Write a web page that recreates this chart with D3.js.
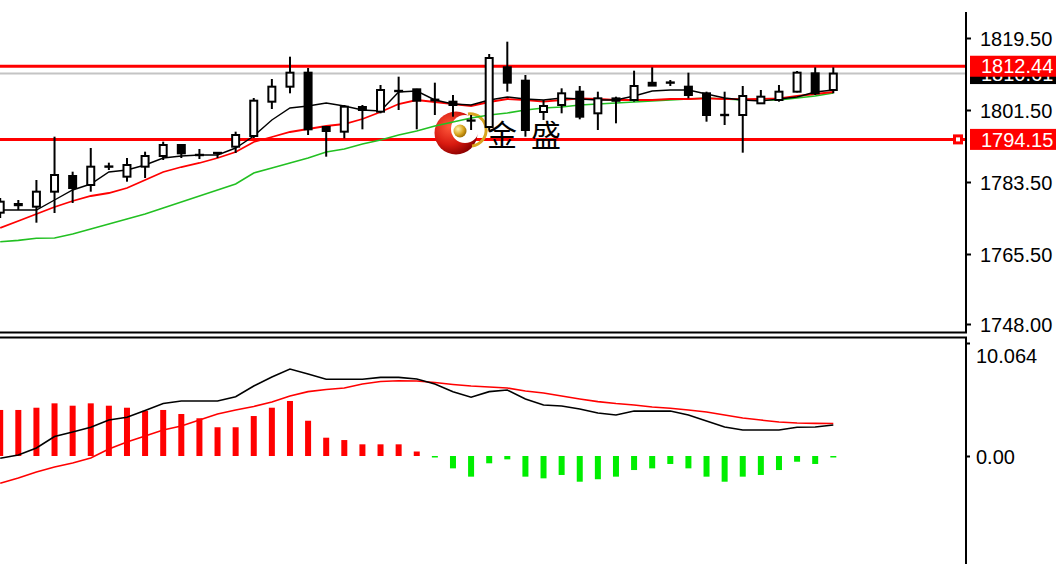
<!DOCTYPE html>
<html><head><meta charset="utf-8">
<script src="https://cdn.jsdelivr.net/npm/d3@7/dist/d3.min.js"></script>
<style>html,body{margin:0;padding:0;background:#fff;overflow:hidden}svg{display:block}</style>
</head><body><svg id="c" width="1056" height="564"></svg>
<script>
// ---- data ----
const open  = [1775.83,1777.7,1777.33,1781.08,1785,1782.75,1787.3,1784.83,1787.33,1790,1792.75,1790.3,1790.8,1792.33,1795,1803.58,1807.33,1810.83,1797.25,1796.08,1802.25,1801.08,1806.2,1806.67,1804.1,1803.58,1798.83,1797.25,1812.17,1808.83,1801,1802.75,1806.08,1800.67,1804.4,1804,1808.3,1808.3,1807.33,1805.67,1800.2,1800.25,1803.17,1804,1806.08,1810.67,1806.5];
const high  = [1779.5,1779.0,1784,1794.83,1786.08,1792,1788.33,1789.5,1791.08,1793.58,1792.9,1791.75,1791.0,1796.08,1804.5,1809.25,1814.83,1812,1797.5,1802.75,1802.75,1807.75,1809.83,1806.8,1808.33,1805.25,1800.25,1815.5,1818.58,1810.25,1804,1806.92,1807.5,1806.08,1804.83,1811.33,1812.17,1809,1810.83,1806.08,1806.08,1807.5,1806.5,1807.75,1811.25,1812.17,1812.17];
const low   = [1774.5,1776.5,1773.33,1775.75,1778.25,1781.08,1786.5,1783.58,1784.5,1789,1789.5,1789.25,1789.5,1790.75,1794.5,1801.75,1805.67,1795.25,1789.83,1794.42,1796.67,1800.67,1801.5,1796.67,1800.25,1799.83,1796.5,1796.5,1806.08,1794.83,1799,1800.67,1799.17,1796.5,1798.17,1803.58,1807.5,1807.5,1804.42,1798.58,1797.75,1790.83,1803,1803.58,1805.9,1805.25,1805.67];
const close = [1778.58,1778.0,1781.08,1785.25,1782,1787.33,1787.4,1787.75,1790,1792.75,1790.67,1790.2,1790.7,1795.25,1803.83,1807.33,1810.83,1796.67,1796.25,1802.33,1801.5,1806.5,1806.3,1803.83,1803.9,1802.75,1798.9,1814.5,1808.33,1796.5,1802.5,1805.67,1799.83,1804.42,1803.8,1807.5,1807.6,1808.4,1805.25,1800.25,1800.3,1805,1804.83,1806.08,1810.83,1805.67,1810.61];

const maFast = [1776.5,1776.5,1776.5,1779,1781.5,1783,1786,1786.5,1787.75,1789.5,1790,1790.25,1790.25,1792,1795,1799,1802,1802.5,1803.25,1802.5,1801.5,1801.25,1806,1806.25,1804,1803,1802.75,1804,1804.75,1804.25,1804,1804.5,1804.25,1804,1804,1805,1806.25,1806.5,1806.5,1805.5,1804.5,1804,1803.75,1804.25,1804.75,1806,1806.5];
const maMid  = [1772,1773.75,1775.5,1777.25,1778.75,1780,1780.75,1782,1784,1786,1787.25,1788.25,1789.5,1791,1793.5,1794.75,1796,1796.75,1797.5,1798,1799.25,1801,1803,1804,1803.5,1803,1802.5,1803.5,1804.25,1804,1803.6,1804,1804.4,1804.25,1804,1804,1804,1804.25,1804.25,1804.4,1804.25,1804.2,1804.25,1804.4,1805,1805.5,1806];
const maSlow = [1768.58,1768.9,1769.42,1769.5,1770.5,1771.75,1773,1774.25,1775.5,1777,1778.5,1780,1781.5,1783,1785.75,1787,1788.25,1789.5,1791,1791.75,1793,1794,1795.25,1796.25,1797.5,1798.5,1799.5,1800.25,1800.75,1801.5,1802,1802.25,1802.75,1803,1803.25,1803.5,1803.75,1804,1804.25,1804.5,1804.25,1804,1804,1804,1804.5,1805,1805.75];

const macdMain   = [-0.2,0.09,0.71,1.74,2.14,2.56,3.2,3.45,4.05,4.67,4.9,4.9,4.9,5.28,6.23,7.03,7.75,7.3,6.83,6.83,6.83,7.0,7.0,6.86,6.41,5.73,5.23,5.73,5.88,5.08,4.54,4.45,4.19,3.83,3.65,4.0,4.0,4.0,3.65,3.12,2.58,2.32,2.32,2.32,2.56,2.58,2.76];
const macdSignal = [-2.43,-1.96,-1.42,-0.98,-0.62,-0.18,0.62,1.25,1.78,2.32,2.67,3.2,3.74,4.1,4.41,4.81,5.34,5.73,5.92,6.05,6.41,6.63,6.7,6.68,6.54,6.37,6.23,6.14,6.05,5.79,5.61,5.34,5.08,4.84,4.67,4.54,4.36,4.25,4.1,3.92,3.65,3.38,3.2,3.03,2.94,2.91,2.89];
const macdHist   = [4.1,4.1,4.3,4.69,4.48,4.69,4.48,4.3,4.03,4.1,3.74,3.36,2.56,2.56,3.56,4.3,4.9,3.14,1.63,1.42,1.04,1.04,1.04,0.4,-0.12,-1.1,-1.84,-0.65,-0.3,-1.84,-1.99,-1.69,-2.29,-2.07,-1.84,-1.25,-1.1,-0.71,-1.1,-1.84,-2.29,-1.84,-1.69,-1.25,-0.51,-0.71,-0.12];

const priceTicks = [1819.50, 1801.50, 1783.50, 1765.50, 1748.00];
const macdTicks = [10.064, 0];
const macdTickLabels = ["10.064", "0.00"];
const levelLines = [1812.44, 1794.15];
const bidPrice = 1810.61;
const watermark = "金盛";

// ---- layout ----
const svg = d3.select("#c");
const axisX = 966;
const idx = d3.range(open.length);
const x = d3.scaleLinear().domain([0, open.length - 1]).range([0.2, 833.3]);
const yP = d3.scaleLinear().domain([1748, 1819.5]).range([324, 38]);
const yM = d3.scaleLinear().domain([0, 10.064]).range([456, 343]);
const FONT = "'Liberation Sans', Arial, sans-serif";

// bid (gray) line
svg.append("line").attr("x1", 0).attr("x2", axisX).attr("y1", yP(bidPrice)).attr("y2", yP(bidPrice))
  .attr("stroke", "#c4c4c4").attr("stroke-width", 2);

// level lines
svg.selectAll("line.level").data(levelLines).join("line").attr("class", "level")
  .attr("x1", 0).attr("x2", axisX).attr("y1", d => yP(d)).attr("y2", d => yP(d))
  .attr("stroke", "#ff0000").attr("stroke-width", 3);

// watermark logo
const defs = svg.append("defs");
const rg = defs.append("radialGradient").attr("id", "rg").attr("cx", "35%").attr("cy", "35%").attr("r", "70%");
rg.append("stop").attr("offset", "0%").attr("stop-color", "#ff5a3c");
rg.append("stop").attr("offset", "60%").attr("stop-color", "#d81a10");
rg.append("stop").attr("offset", "100%").attr("stop-color", "#8a0000");
const gg = defs.append("radialGradient").attr("id", "gg").attr("cx", "35%").attr("cy", "35%").attr("r", "70%");
gg.append("stop").attr("offset", "0%").attr("stop-color", "#fff3b0");
gg.append("stop").attr("offset", "60%").attr("stop-color", "#d9a520");
gg.append("stop").attr("offset", "100%").attr("stop-color", "#9a6a00");
const logo = svg.append("g");
logo.append("circle").attr("cx", 456).attr("cy", 133).attr("r", 21.5).attr("fill", "url(#rg)");
logo.append("circle").attr("cx", 465).attr("cy", 129).attr("r", 14).attr("fill", "#fff");
logo.append("path").attr("d", "M468,114 A15,15 0 0 1 472,146").attr("fill", "none").attr("stroke", "#d9a520").attr("stroke-width", 3);
logo.append("circle").attr("cx", 460).attr("cy", 131).attr("r", 6.5).attr("fill", "url(#gg)");
svg.append("text").attr("x", 487).attr("y", 146).text(watermark)
  .attr("font-family", "'Noto Sans CJK SC', sans-serif").attr("font-size", 30)
  .attr("letter-spacing", 14).attr("fill", "#000");

// moving averages
const lineP = d3.line().x((d, i) => x(i)).y(d => yP(d));
svg.append("path").datum(maSlow).attr("d", lineP).attr("fill", "none").attr("stroke", "#22c022").attr("stroke-width", 1.6);
svg.append("path").datum(maMid).attr("d", lineP).attr("fill", "none").attr("stroke", "#ff0000").attr("stroke-width", 1.8);
svg.append("path").datum(maFast).attr("d", lineP).attr("fill", "none").attr("stroke", "#000").attr("stroke-width", 1.4);

// candles
const cg = svg.append("g");
cg.selectAll("line.wick").data(idx).join("line").attr("class", "wick")
  .attr("x1", i => x(i)).attr("x2", i => x(i))
  .attr("y1", i => yP(high[i])).attr("y2", i => yP(low[i]))
  .attr("stroke", "#000").attr("stroke-width", 2);
cg.selectAll("rect.body").data(idx).join("rect").attr("class", "body")
  .attr("x", i => x(i) - 3.5).attr("width", 7)
  .attr("y", i => yP(Math.max(open[i], close[i])))
  .attr("height", i => Math.max(0.01, Math.abs(yP(open[i]) - yP(close[i]))))
  .attr("fill", i => close[i] >= open[i] ? "#fff" : "#000")
  .attr("stroke", "#000").attr("stroke-width", 2);

// MACD histogram
svg.selectAll("rect.hist").data(idx).join("rect").attr("class", "hist")
  .attr("x", i => x(i) - 3).attr("width", 6)
  .attr("y", i => Math.min(yM(0), yM(macdHist[i])))
  .attr("height", i => Math.max(1.5, Math.abs(yM(macdHist[i]) - yM(0))))
  .attr("fill", i => macdHist[i] >= 0 ? "#ff0000" : "#00ee00");
const lineM = d3.line().x((d, i) => x(i)).y(d => yM(d));
svg.append("path").datum(macdSignal).attr("d", lineM).attr("fill", "none").attr("stroke", "#ff0000").attr("stroke-width", 1.6);
svg.append("path").datum(macdMain).attr("d", lineM).attr("fill", "none").attr("stroke", "#000").attr("stroke-width", 1.6);

// panel frames
svg.append("line").attr("x1", 0).attr("x2", axisX + 1).attr("y1", 332.5).attr("y2", 332.5).attr("stroke", "#000").attr("stroke-width", 2);
svg.append("line").attr("x1", 0).attr("x2", axisX + 1).attr("y1", 337.5).attr("y2", 337.5).attr("stroke", "#000").attr("stroke-width", 2);
svg.append("line").attr("x1", axisX).attr("x2", axisX).attr("y1", 12).attr("y2", 333).attr("stroke", "#000").attr("stroke-width", 2);
svg.append("line").attr("x1", axisX).attr("x2", axisX).attr("y1", 337).attr("y2", 564).attr("stroke", "#000").attr("stroke-width", 2);

// price axis
const pAxis = svg.append("g").attr("transform", `translate(${axisX},0)`)
  .call(d3.axisRight(yP).tickValues(priceTicks).tickSize(5).tickPadding(9).tickFormat(d => d.toFixed(2)));
pAxis.select(".domain").remove();
pAxis.selectAll(".tick line").attr("stroke", "#000").attr("stroke-width", 2);
pAxis.selectAll(".tick text").attr("font-family", FONT).attr("font-size", 20).attr("fill", "#000").attr("dy", "0.36em");

// macd axis
const mAxis = svg.append("g").attr("transform", `translate(${axisX},0)`)
  .call(d3.axisRight(yM).tickValues(macdTicks).tickSize(4).tickPadding(6).tickFormat((d, i) => macdTickLabels[i]));
mAxis.select(".domain").remove();
mAxis.selectAll(".tick line").attr("stroke", "#000").attr("stroke-width", 2);
mAxis.selectAll(".tick text").attr("font-family", FONT).attr("font-size", 20).attr("fill", "#000")
  .attr("dy", (d, i) => i === 0 ? "0.95em" : "0.36em");

// price labels (bid label under the red one)
function priceLabel(v, fill) {
  const g = svg.append("g");
  g.append("rect").attr("x", 970).attr("y", yP(v) - 10.5).attr("width", 86).attr("height", 21).attr("fill", fill);
  g.append("text").attr("x", 981).attr("y", yP(v)).attr("dy", "0.36em").text(v.toFixed(2))
    .attr("font-family", FONT).attr("font-size", 20).attr("fill", "#fff");
}
priceLabel(bidPrice, "#000");
levelLines.forEach(v => priceLabel(v, "#ff0000"));

// marker on lower level line
svg.append("rect").attr("x", 953).attr("y", yP(levelLines[1]) - 5).attr("width", 10).attr("height", 10).attr("fill", "#ff0000");
svg.append("rect").attr("x", 956).attr("y", yP(levelLines[1]) - 2).attr("width", 4).attr("height", 4).attr("fill", "#fff");
</script></body></html>
